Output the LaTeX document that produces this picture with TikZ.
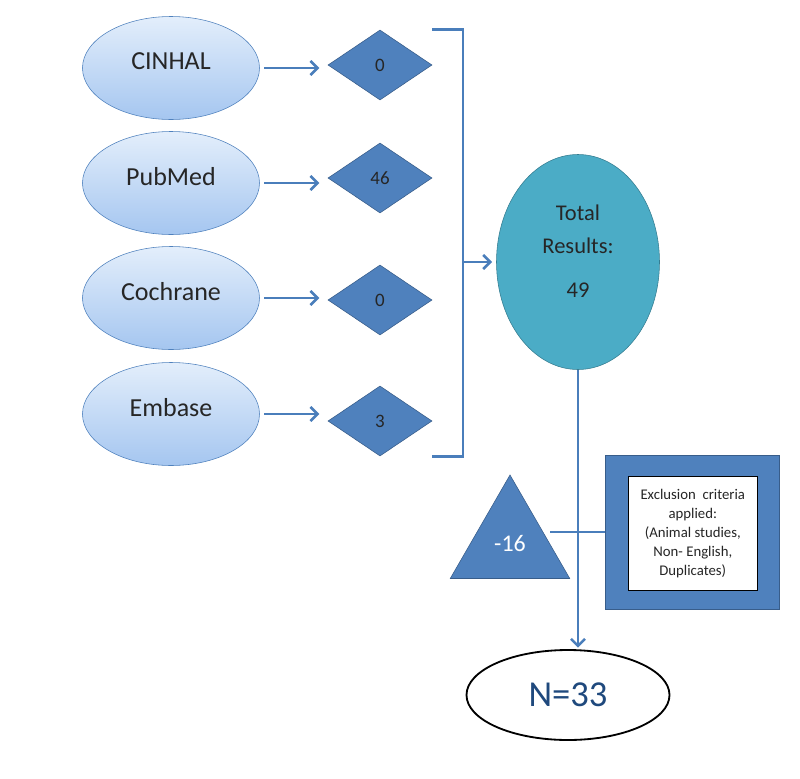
\documentclass[tikz,border=0pt]{standalone}
\usepackage{fontspec}
\setmainfont{Carlito}
\usepackage{tikz}
\usetikzlibrary{arrows.meta, positioning, shapes.geometric}
\definecolor{linkblue}{HTML}{4A7EBB}
\definecolor{boxblue}{HTML}{4F81BD}
\definecolor{darkblue}{HTML}{385D8A}
\definecolor{lighttop}{HTML}{E3EEFB}
\definecolor{lightbot}{HTML}{A5C6F0}
\definecolor{aqua}{HTML}{4BACC6}
\definecolor{aquaedge}{HTML}{357D91}
\definecolor{navy}{HTML}{1F497D}

\begin{document}
\begin{tikzpicture}[
    source/.style={ellipse, draw=boxblue, top color=lighttop, bottom color=lightbot, thin, minimum width=4.425cm, minimum height=2.575cm, inner sep=0pt, text=black!85, font=\fontsize{18.5}{20}\selectfont},
    hits/.style={diamond, draw=darkblue, fill=boxblue, aspect=1.5, minimum width=2.6cm, minimum height=1.75cm, inner sep=0pt, text=black!85, font=\fontsize{13.5}{15}\selectfont},
    line/.style={line width=1.8pt, color=linkblue},
    arrow/.style={line, -{Straight Barb[length=5pt, width=10pt]}}
]
\useasboundingbox (0,0) rectangle (20,-19.45);

% Nodes
\node[source] (cinhal) at (4.275,-1.7) {\raisebox{10pt}{CINHAL}};
\node[source] (pubmed) at (4.275,-4.575) {\raisebox{10pt}{PubMed}};
\node[source] (cochrane) at (4.275,-7.45) {\raisebox{10pt}{Cochrane}};
\node[source] (embase) at (4.275,-10.35) {\raisebox{10pt}{Embase}};

\node[hits] (hcinhal) at (9.5,-1.625) {0};
\node[hits] (hpubmed) at (9.5,-4.45) {46};
\node[hits] (hcochrane) at (9.5,-7.5) {0};
\node[hits] (hembase) at (9.5,-10.525) {3};

\node[ellipse, draw=aquaedge, fill=aqua, minimum width=4.075cm, minimum height=5.375cm, align=center, text=black!85, font=\fontsize{16}{23}\selectfont] (total) at (14.45,-6.55) {\raisebox{6.5pt}[\height][\depth]{\begin{tabular}{@{}c@{}}Total\\Results:\\[9pt]49\end{tabular}}};
\coordinate (brk) at (11.575,-6.55);

\node[regular polygon, regular polygon sides=3, draw=darkblue, fill=boxblue, minimum size=3.45cm, inner sep=0pt, text=white, font=\fontsize{17}{19}\selectfont] (minus) at (12.75,-13.6) {\raisebox{-5pt}{-16}};
\node[rectangle, draw=darkblue, fill=boxblue, minimum width=4.35cm, minimum height=3.85cm] (excl) at (17.3,-13.3) {};
\node[rectangle, draw=black, fill=white, thin, minimum width=3.225cm, minimum height=2.85cm, align=center, text=black!85, font=\fontsize{10.5}{13.5}\selectfont] (crit) at (17.32,-13.33) {Exclusion\ \ criteria\\applied:\\(Animal studies,\\Non-\ English,\\Duplicates)};

\node[ellipse, draw=black, fill=white, line width=1.3pt, minimum width=5.075cm, minimum height=2.25cm, text=navy, font=\fontsize{26}{28}\selectfont] (final) at (14.2,-17.375) {N=33};

% Arrows
\draw[arrow, shorten <=3pt, shorten >=6pt] (cinhal.east) -- (cinhal.east -| hcinhal.west);
\draw[arrow, shorten <=3pt, shorten >=6pt] (pubmed.east) -- (pubmed.east -| hpubmed.west);
\draw[arrow, shorten <=3pt, shorten >=6pt] (cochrane.east) -- (cochrane.east -| hcochrane.west);
\draw[arrow, shorten <=3pt, shorten >=6pt] (embase.east) -- (embase.east -| hembase.west);

% Bracket into the total
\draw[line] (hcinhal.north -| hcinhal.east) -| (brk) |- (hembase.south -| hembase.east);
\draw[arrow, shorten >=3pt] (brk) -- (total.west);

% Down to the final count
\draw[line] (excl.west) -- (excl.west -| minus.east);
\draw[arrow, shorten >=1pt] (total.south) -- (total.south |- final.north);

\end{tikzpicture}
\end{document}
